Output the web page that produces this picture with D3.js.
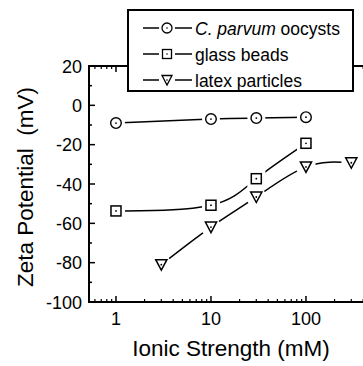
<!DOCTYPE html>
<html><head><meta charset="utf-8">
<script src="https://cdn.jsdelivr.net/npm/d3@7"></script>
<style>body{margin:0;background:#fff}svg{display:block;font-family:"Liberation Sans",Arial,sans-serif}</style>
</head><body><svg id="c" width="363" height="366"></svg>
<script>
const seriesNames = ["C. parvum oocysts", "glass beads", "latex particles"];
const parvumX = [1, 10, 30, 100];
const parvumY = [-9, -7, -6.5, -6];
const beadsX = [1, 10, 30, 100];
const beadsY = [-53.7, -50.8, -37.3, -19.3];
const latexX = [3, 10, 30, 100, 300];
const latexY = [-81, -61.9, -46.6, -31.3, -29.2];
const xTickValues = [1, 10, 100];
const yTickValues = [20, 0, -20, -40, -60, -80, -100];

const svg = d3.select("#c");
const x = d3.scaleLog().domain([0.52, 500]).range([89, 89 + Math.log10(500/0.52)*95]);
const y = d3.scaleLinear().domain([-100, 20]).range([302, 66]);
const x0 = 89, x1 = x.range()[1], yb = 302, yt = 66;

const minorX = [];
for (let d = 0.1; d <= 100; d *= 10) for (let k = 1; k <= 9; k++) {
  const v = +(k*d).toPrecision(3);
  if (v >= 0.52 && v <= 500 && !xTickValues.includes(v)) minorX.push(v);
}
const minorY = d3.range(-90, 20, 20);

const g = svg.append("g");
g.append("line").attr("x1", x0).attr("x2", x1).attr("y1", yb).attr("y2", yb).attr("stroke", "#000").attr("stroke-width", 2);
g.append("line").attr("x1", x0).attr("x2", x1).attr("y1", yt).attr("y2", yt).attr("stroke", "#000").attr("stroke-width", 2);
g.append("line").attr("x1", x0).attr("x2", x0).attr("y1", yt-1).attr("y2", yb+1).attr("stroke", "#000").attr("stroke-width", 2);

xTickValues.forEach(v => {
  g.append("line").attr("x1", x(v)).attr("x2", x(v)).attr("y1", yb).attr("y2", yb-6).attr("stroke", "#000").attr("stroke-width", 1.5);
  g.append("line").attr("x1", x(v)).attr("x2", x(v)).attr("y1", yt).attr("y2", yt+6).attr("stroke", "#000").attr("stroke-width", 1.5);
  g.append("text").attr("x", x(v)).attr("y", 325).attr("text-anchor", "middle").attr("font-size", 18).text(d3.format("d")(v));
});
minorX.forEach(v => {
  g.append("line").attr("x1", x(v)).attr("x2", x(v)).attr("y1", yb).attr("y2", yb-3).attr("stroke", "#000").attr("stroke-width", 1.2);
  g.append("line").attr("x1", x(v)).attr("x2", x(v)).attr("y1", yt).attr("y2", yt+3).attr("stroke", "#000").attr("stroke-width", 1.2);
});
yTickValues.forEach(v => {
  g.append("line").attr("x1", x0).attr("x2", x0+6).attr("y1", y(v)).attr("y2", y(v)).attr("stroke", "#000").attr("stroke-width", 1.5);
  g.append("text").attr("x", 82).attr("y", y(v)+6.5).attr("text-anchor", "end").attr("font-size", 18).text(v);
});
minorY.forEach(v => {
  g.append("line").attr("x1", x0).attr("x2", x0+3).attr("y1", y(v)).attr("y2", y(v)).attr("stroke", "#000").attr("stroke-width", 1.5);
});

g.append("text").attr("x", 231).attr("y", 356).attr("text-anchor", "middle").attr("font-size", 22.5).text("Ionic Strength (mM)");
g.append("text").attr("transform", "translate(33,187) rotate(-90)").attr("text-anchor", "middle").attr("font-size", 22.5)
  .attr("xml:space", "preserve").style("white-space", "pre").text("Zeta Potential  (mV)");

const line = d3.line().x(d => x(d[0])).y(d => y(d[1])).curve(d3.curveNatural);
const series = [
  {xs: parvumX, ys: parvumY, m: "circle"},
  {xs: beadsX, ys: beadsY, m: "square"},
  {xs: latexX, ys: latexY, m: "tri"}
];
function marker(sel, type, cx, cy) {
  const s = sel.append("g").attr("transform", `translate(${cx},${cy})`);
  if (type === "circle") {
    s.append("circle").attr("r", 9).attr("fill", "#fff");
    s.append("circle").attr("r", 5.3).attr("fill", "#fff").attr("stroke", "#000").attr("stroke-width", 1.4);
  } else if (type === "square") {
    s.append("rect").attr("x", -9).attr("y", -9).attr("width", 18).attr("height", 18).attr("fill", "#fff");
    s.append("rect").attr("x", -5).attr("y", -5).attr("width", 10).attr("height", 10).attr("fill", "#fff").attr("stroke", "#000").attr("stroke-width", 1.5);
  } else {
    s.append("circle").attr("r", 10).attr("fill", "#fff");
    s.append("path").attr("d", "M-5.6,-5 L5.6,-5 L0,5.5 Z").attr("fill", "#fff").attr("stroke", "#000").attr("stroke-width", 1.5);
  }
  s.append("circle").attr("r", 0.9).attr("fill", "#000");
}
series.forEach(s => {
  const pts = s.xs.map((v, i) => [v, s.ys[i]]);
  g.append("path").attr("d", line(pts)).attr("fill", "none").attr("stroke", "#000").attr("stroke-width", 1.5);
});
series.forEach(s => {
  s.xs.forEach((v, i) => marker(g, s.m, x(v), y(s.ys[i])));
});

const L = g.append("g");
L.append("rect").attr("x", 128).attr("y", 10).attr("width", 225).attr("height", 81).attr("fill", "#fff").attr("stroke", "#000").attr("stroke-width", 2);
const rowsY = [28, 54, 80];
["circle", "square", "tri"].forEach((m, i) => {
  const cy = rowsY[i];
  L.append("line").attr("x1", 143).attr("x2", 192).attr("y1", cy).attr("y2", cy).attr("stroke", "#000").attr("stroke-width", 1.5);
  const s = L.append("g").attr("transform", `translate(167,${cy})`);
  if (m === "circle") {
    s.append("circle").attr("r", 8).attr("fill", "#fff");
    s.append("circle").attr("r", 5).attr("fill", "#fff").attr("stroke", "#000").attr("stroke-width", 1.3);
  } else if (m === "square") {
    s.append("rect").attr("x", -8).attr("y", -8).attr("width", 16).attr("height", 16).attr("fill", "#fff");
    s.append("rect").attr("x", -4.5).attr("y", -4.5).attr("width", 9).attr("height", 9).attr("fill", "#fff").attr("stroke", "#000").attr("stroke-width", 1.3);
  } else {
    s.append("rect").attr("x", -8).attr("y", -8).attr("width", 16).attr("height", 16).attr("fill", "#fff");
    s.append("path").attr("d", "M-5,-4.5 L5,-4.5 L0,5 Z").attr("fill", "#fff").attr("stroke", "#000").attr("stroke-width", 1.3);
  }
  s.append("circle").attr("r", 0.8).attr("fill", "#000");
});
const t0 = L.append("text").attr("x", 195).attr("y", rowsY[0]+6.5).attr("font-size", 17.5);
t0.append("tspan").attr("font-style", "italic").text("C. parvum");
t0.append("tspan").text(" oocysts");
L.append("text").attr("x", 195).attr("y", rowsY[1]+6.5).attr("font-size", 17.5).text(seriesNames[1]);
L.append("text").attr("x", 195).attr("y", rowsY[2]+6.5).attr("font-size", 17.5).text(seriesNames[2]);
</script></body></html>
